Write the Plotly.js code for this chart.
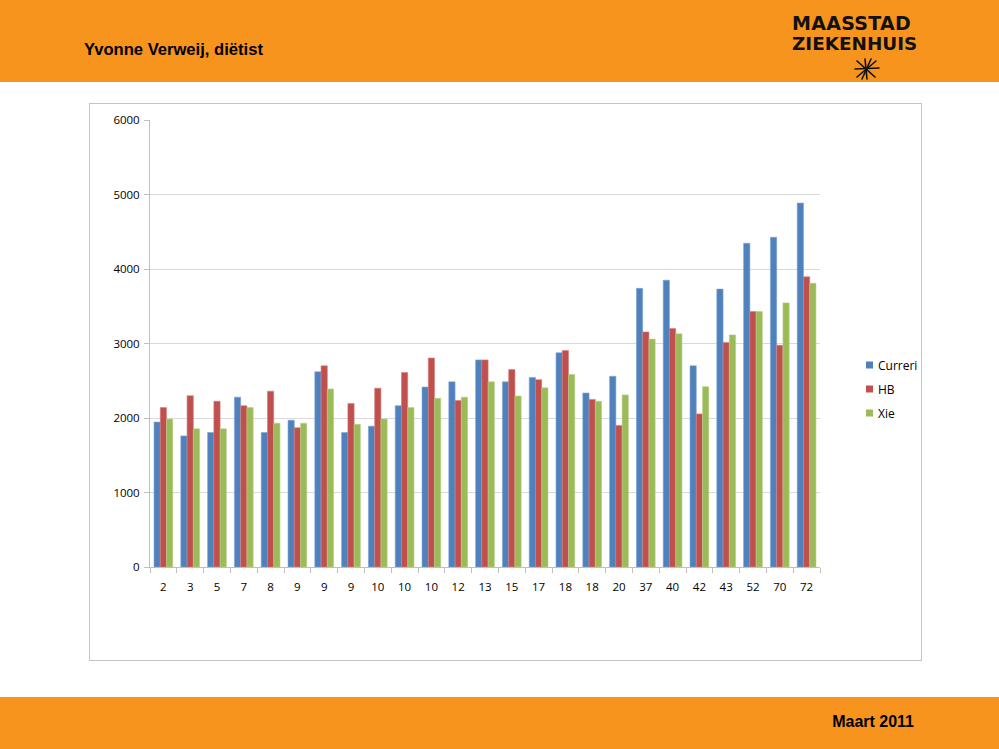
<!DOCTYPE html>
<html>
<head>
<meta charset="utf-8">
<script src="https://cdn.plot.ly/plotly-3.0.1.min.js"></script>
<style>
  body { margin: 0; width: 999px; height: 749px; position: relative; background: #fff; overflow: hidden; font-family: "Liberation Sans", Arial, sans-serif; }
  .band { position: absolute; left: 0; width: 999px; background: #F7941E; }
  #top { top: 0; height: 82px; }
  #bottom { top: 697px; height: 52px; }
  #author { position: absolute; left: 84px; top: 40px; font-weight: bold; font-size: 16.6px; color: #000; }
  #date { position: absolute; right: 85px; top: 713px; font-weight: bold; font-size: 16px; color: #000; }
  .logo { position: absolute; left: 792px; font-family: "DejaVu Sans", sans-serif; font-weight: bold; color: #111; line-height: 1; }
  #frame { position: absolute; left: 89px; top: 103px; width: 831px; height: 556px; border: 1px solid #c4c4c4; }
  #chart { position: absolute; left: 0; top: 0; width: 999px; height: 749px; }
</style>
</head>
<body>
<div class="band" id="top"></div>
<div class="band" id="bottom"></div>
<div id="author">Yvonne Verweij, diëtist</div>
<div id="date">Maart 2011</div>
<div class="logo" style="top:14px;font-size:19px;letter-spacing:0.3px">MAASSTAD</div>
<div class="logo" style="top:35px;font-size:18.4px">ZIEKENHUIS</div>
<svg style="position:absolute;left:853px;top:58px" width="28" height="22">
  <g stroke="#111" stroke-width="1.6" stroke-linecap="round">
    <line x1="12" y1="1" x2="14" y2="21"/>
    <line x1="2" y1="11" x2="26" y2="10"/>
    <line x1="4" y1="3" x2="22" y2="19"/>
    <line x1="23" y1="3" x2="4" y2="19"/>
    <line x1="18" y1="1" x2="9" y2="21"/>
  </g>
</svg>
<div id="frame"></div>
<div id="chart"></div>
<script>
// categorieën (x-as) en waarden per methode
const labels = ['2', '3', '5', '7', '8', '9', '9', '9', '10', '10', '10', '12', '13',
                '15', '17', '18', '18', '20', '37', '40', '42', '43', '52', '70', '72'];
const curreri = [1945, 1760, 1805, 2280, 1805, 1970, 2620, 1805, 1890, 2165, 2415, 2485, 2780,
                 2485, 2545, 2875, 2335, 2560, 3740, 3850, 2700, 3730, 4345, 4425, 4885];
const hb = [2140, 2300, 2225, 2165, 2360, 1870, 2700, 2195, 2400, 2610, 2805, 2235, 2780,
            2650, 2515, 2905, 2250, 1900, 3155, 3200, 2055, 3015, 3430, 2975, 3895];
const xie = [1985, 1855, 1855, 2140, 1930, 1930, 2390, 1915, 1985, 2140, 2265, 2280, 2485,
             2295, 2405, 2585, 2225, 2310, 3060, 3130, 2420, 3115, 3430, 3545, 3810];
const yTicks = [0, 1000, 2000, 3000, 4000, 5000, 6000];

// dubbele labels (9, 10, 18) -> numerieke x-as met eigen ticktekst
const xs = labels.map((_, i) => i);

const series = [
    { name: 'Curreri', y: curreri, color: '#4F81BD', edge: '#7EA2D0' },
    { name: 'HB', y: hb, color: '#C0504D', edge: '#D4807E' },
    { name: 'Xie', y: xie, color: '#9BBB59', edge: '#B8D08A' }
];

const traces = series.map(s => ({
    type: 'bar',
    name: s.name,
    x: xs,
    y: s.y,
    marker: { color: s.color, line: { color: s.edge, width: 0.6 } },
    hoverinfo: 'skip'
}));

// plotgebied in pixels: x 150..820, y 120..567
const M = { l: 150, r: 179, t: 120, b: 182 };
const plotW = 999 - M.l - M.r;
const plotH = 749 - M.t - M.b;
const px = p => (p - M.l) / plotW;
const py = p => (749 - M.b - p) / plotH;

// legenda zoals in Excel: klein vierkantje + tekst
const legendShapes = [];
const legendNotes = [];
series.forEach((s, i) => {
    const cy = 365 + i * 24;
    legendShapes.push({
        type: 'rect', xref: 'paper', yref: 'paper',
        x0: px(866), x1: px(873), y0: py(cy + 3.5), y1: py(cy - 3.5),
        fillcolor: s.color, line: { width: 0 }
    });
    legendNotes.push({
        xref: 'paper', yref: 'paper', x: px(876), y: py(cy),
        xanchor: 'left', yanchor: 'middle', showarrow: false,
        text: s.name, font: { size: 12 }
    });
});

const gridColor = '#D9D9D9';
const axisColor = '#BFBFBF';

const layout = {
    width: 999,
    height: 749,
    margin: M,
    paper_bgcolor: 'rgba(0,0,0,0)',
    plot_bgcolor: 'rgba(0,0,0,0)',
    font: { family: '"Open Sans", "Liberation Sans", sans-serif', size: 11.5, color: '#000' },
    barmode: 'group',
    bargap: 0.3,
    bargroupgap: 0,
    showlegend: false,
    shapes: legendShapes,
    annotations: legendNotes,
    xaxis: {
        range: [-0.5, labels.length - 0.5],
        tickvals: xs,
        ticktext: labels,
        ticks: '',
        ticklabelstandoff: 9,
        showgrid: false,
        showline: true,
        linecolor: axisColor,
        linewidth: 1,
        zeroline: false,
        minor: { ticks: 'outside', tick0: -0.5, dtick: 1, ticklen: 5, tickcolor: axisColor, showgrid: false },
        fixedrange: true
    },
    yaxis: {
        range: [0, 6000],
        tickvals: yTicks,
        ticktext: yTicks.map(String),
        ticks: 'outside',
        ticklen: 5,
        tickcolor: axisColor,
        ticklabelstandoff: 2,
        gridcolor: gridColor,
        showline: true,
        linecolor: axisColor,
        linewidth: 1,
        zeroline: false,
        fixedrange: true
    }
};

Plotly.newPlot('chart', traces, layout, { staticPlot: true });
</script>
</body>
</html>
